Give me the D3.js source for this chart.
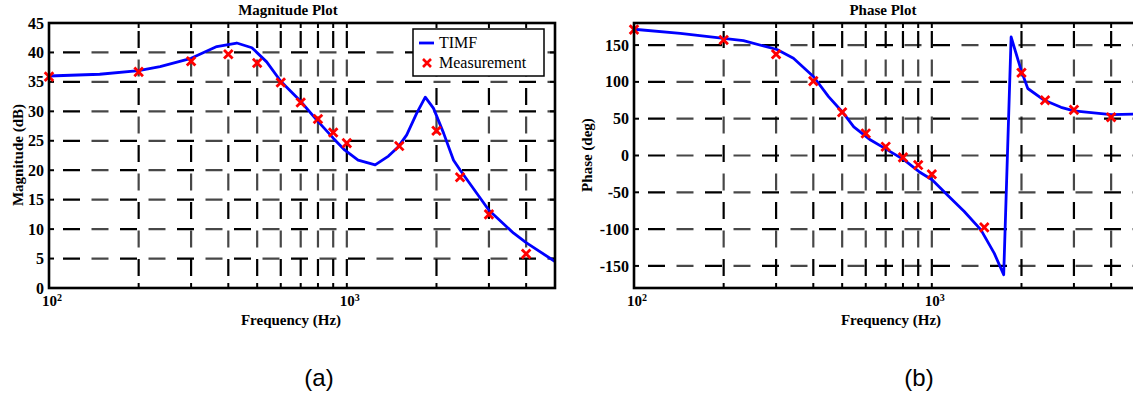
<!DOCTYPE html>
<html><head><meta charset="utf-8">
<script src="https://cdn.jsdelivr.net/npm/d3@7"></script>
<style>
html,body{margin:0;padding:0;background:#fff;}
svg{display:block;}
text{font-family:"Liberation Serif","Times New Roman",serif;font-weight:bold;fill:#000;}
</style></head>
<body>
<svg id="chart" width="1133" height="398"></svg>
<script>
// ---- data ----
const magFreq = [100,148,200,236,300,366,427,480,538,600,697,793,902,985,1091,1245,1380,1490,1589,1717,1834,1955,2113,2282,2404,3000,3632,4000,5000];
const magDb   = [36.0,36.3,36.9,37.6,39.0,41.0,41.6,40.8,38.4,35.1,31.8,28.5,25.4,23.4,21.7,20.9,22.4,24.0,26.0,29.7,32.4,30.5,26.3,21.7,20.0,13.2,9.3,7.7,4.5];
const phaseFreq = [100,143,200,233,302,343,401,450,500,547,623,700,807,906,1002,1130,1285,1462,1621,1743,1846,1994,2100,2387,2716,3000,4000,5000];
const phaseDeg  = [171.5,166,159,156,144,132,107,80,59.5,39,21,9,-6,-22,-33,-54,-76,-101,-133,-162,161,116,91,75,65.5,60.5,55.5,56.5];
const measFreq  = [100,200,300,400,500,600,700,800,900,1000,1500,2000,2400,3000,4000];
const measMag   = [35.9,36.7,38.5,39.7,38.2,34.9,31.5,28.7,26.4,24.6,24.1,26.7,18.8,12.5,5.8];
const measPhase = [171,157,137.5,101,58.7,30,12,-2.5,-13,-25.5,-97.6,112.5,75,62,52];
const gridFreq  = [200,300,400,500,600,700,800,900,1000,2000,3000,4000];
const decadeTicks = [{v:100,base:"10",exp:"2"},{v:1000,base:"10",exp:"3"}];
const magTicks   = [0,5,10,15,20,25,30,35,40,45];
const phaseTicks = [-150,-100,-50,0,50,100,150];
const legendItems = ["TIMF","Measurement"];
const panelLabels = ["(a)","(b)"];

const svg = d3.select("#chart");

function panel(opt){
  const g = svg.append("g");
  const x = d3.scaleLog().domain([100,5000]).range([opt.x0,opt.x1]);
  const y = d3.scaleLinear().domain(opt.ydom).range([288,23]);
  const [yb,yt] = y.range();

  // grid
  const gridG = g.append("g");
  function gridLine(x1,y1,x2,y2){
    gridG.append("line").attr("x1",x1).attr("y1",y1).attr("x2",x2).attr("y2",y2)
      .attr("stroke","#000").attr("stroke-width",2.2).attr("stroke-dasharray","17,40");
    gridG.append("line").attr("x1",x1).attr("y1",y1).attr("x2",x2).attr("y2",y2)
      .attr("stroke","#000").attr("stroke-opacity",0.72).attr("stroke-width",2.2).attr("stroke-dasharray","0,28.5,17,11.5");
  }
  opt.yticks.forEach(t=>{ if(t!==opt.ydom[0] && t!==opt.ydom[1]) gridLine(opt.x0+14,y(t),opt.x1,y(t)); });
  gridFreq.forEach(f=>{ gridLine(x(f),yb-12,x(f),yt); });

  // inward ticks
  const tk = g.append("g").attr("stroke","#000").attr("stroke-width",2);
  gridFreq.forEach(f=>{
    tk.append("line").attr("x1",x(f)).attr("x2",x(f)).attr("y1",yb).attr("y2",yb-5);
    tk.append("line").attr("x1",x(f)).attr("x2",x(f)).attr("y1",yt).attr("y2",yt+5);
  });
  opt.yticks.forEach(t=>{
    tk.append("line").attr("x1",opt.x0).attr("x2",opt.x0+5).attr("y1",y(t)).attr("y2",y(t));
    tk.append("line").attr("x1",opt.x1).attr("x2",opt.x1-5).attr("y1",y(t)).attr("y2",y(t));
  });

  // curve
  const line = d3.line().x(d=>x(d[0])).y(d=>y(d[1]));
  g.append("path").datum(d3.zip(opt.cf,opt.cv)).attr("d",line)
    .attr("fill","none").attr("stroke","#0000ff").attr("stroke-width",2.8).attr("stroke-linejoin","round");

  // markers
  d3.zip(measFreq,opt.mv).forEach(d=>{
    const cx=x(d[0]), cy=y(d[1]), s=4.3;
    g.append("path").attr("d",`M${cx-s},${cy-s}L${cx+s},${cy+s}M${cx-s},${cy+s}L${cx+s},${cy-s}`)
      .attr("stroke","#ff0000").attr("stroke-width",2.8).attr("fill","none");
  });

  // frame
  g.append("rect").attr("x",opt.x0).attr("y",yt).attr("width",opt.x1-opt.x0).attr("height",yb-yt)
    .attr("fill","none").attr("stroke","#000").attr("stroke-width",2.6);

  // y tick labels
  opt.yticks.forEach(t=>{
    g.append("text").attr("x",opt.x0-5).attr("y",y(t)).attr("dy","0.35em")
      .attr("text-anchor","end").style("font-size","16px").text(t);
  });
  // x tick labels
  decadeTicks.forEach(d=>{
    const t = g.append("text").attr("x",x(d.v)-7).attr("y",306).style("font-size","15px");
    t.append("tspan").text(d.base);
    t.append("tspan").attr("dy",-5).style("font-size","10px").text(d.exp);
  });
  // titles & labels
  g.append("text").attr("x",opt.titx).attr("y",15).attr("text-anchor","middle").style("font-size","15px").text(opt.title);
  g.append("text").attr("x",opt.fx).attr("y",325).attr("text-anchor","middle").style("font-size","15px").text("Frequency (Hz)");
  g.append("text").attr("transform",`translate(${opt.ylx},${155}) rotate(-90)`).attr("text-anchor","middle")
    .style("font-size","15px").text(opt.ylabel);
  g.append("text").attr("x",opt.labx).attr("y",386).attr("text-anchor","middle")
    .style("font-family","'Liberation Sans',Arial,sans-serif").style("font-weight","normal").style("font-size","24px").text(opt.panel);
  return {g,x,y};
}

panel({x0:49,x1:555,ydom:[0,45],yticks:magTicks,cf:magFreq,cv:magDb,mv:measMag,
  title:"Magnitude Plot",ylabel:"Magnitude (dB)",panel:panelLabels[0],labx:319,titx:288,fx:291,ylx:23});
panel({x0:634,x1:1140,ydom:[-180,180],yticks:phaseTicks,cf:phaseFreq,cv:phaseDeg,mv:measPhase,
  title:"Phase Plot",ylabel:"Phase (deg)",panel:panelLabels[1],labx:919,titx:883,fx:891,ylx:592});

// legend
const lg = svg.append("g");
lg.append("rect").attr("x",413).attr("y",29).attr("width",131).attr("height",47)
  .attr("fill","#fff").attr("stroke","#000").attr("stroke-width",1.5);
lg.append("line").attr("x1",419).attr("x2",434).attr("y1",43).attr("y2",43).attr("stroke","#0000ff").attr("stroke-width",2.8);
lg.append("path").attr("d","M423,59L431,67M423,67L431,59").attr("stroke","#ff0000").attr("stroke-width",2.6);
lg.append("text").attr("x",439).attr("y",48).style("font-size","16px").style("font-weight","normal").text(legendItems[0]);
lg.append("text").attr("x",439).attr("y",68).style("font-size","16px").style("font-weight","normal").text(legendItems[1]);
</script>
</body></html>
